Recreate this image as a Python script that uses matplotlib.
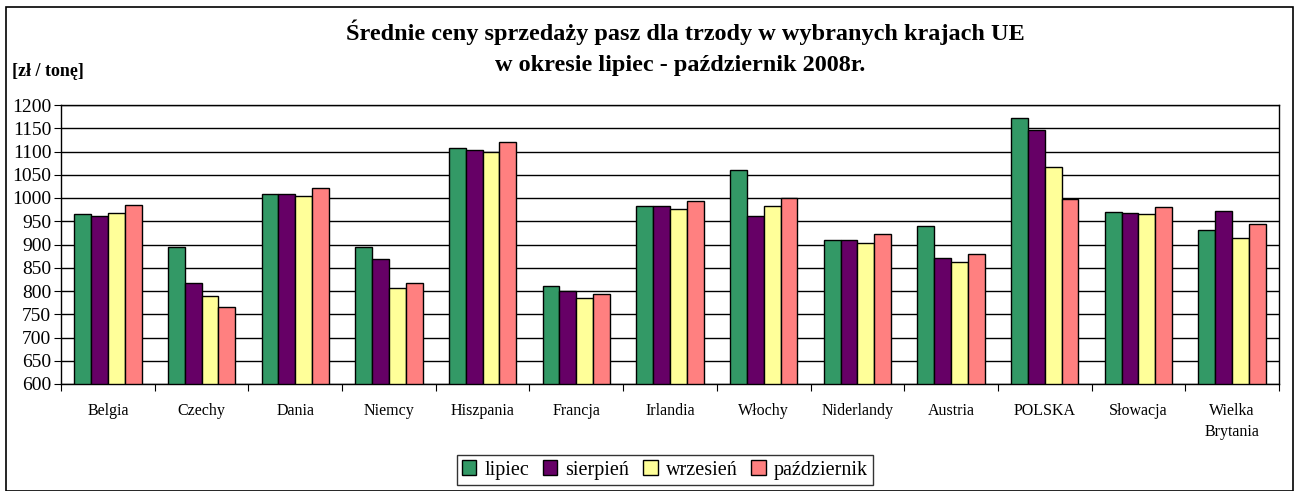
import matplotlib
matplotlib.use("Agg")
import matplotlib.pyplot as plt
import numpy as np
from matplotlib.patches import Rectangle

#------
# data
countries = ["Belgia", "Czechy", "Dania", "Niemcy", "Hiszpania", "Francja", "Irlandia",
             "Włochy", "Niderlandy", "Austria", "POLSKA", "Słowacja", "Wielka\nBrytania"]
months = ["lipiec", "sierpień", "wrzesień", "październik"]

lipiec = [965, 894, 1009, 894, 1107, 810, 982, 1060, 909, 940, 1171, 970, 932]
sierpien = [962, 817, 1009, 868, 1104, 801, 982, 962, 909, 870, 1146, 968, 973]
wrzesien = [967, 790, 1004, 806, 1099, 786, 977, 982, 904, 863, 1066, 965, 914]
pazdziernik = [985, 765, 1021, 817, 1120, 793, 994, 1000, 922, 879, 998, 980, 944]

series = [lipiec, sierpien, wrzesien, pazdziernik]
colors = ["#339966", "#660066", "#FFFF99", "#FF8080"]

serif = ["Liberation Serif", "DejaVu Serif"]
plt.rcParams['font.family'] = serif

#------
# figure
fig = plt.figure(figsize=(12.95, 4.91), dpi=100)
W, H = 1295, 491
ax = fig.add_axes([61/W, 1-384/H, (1279-61)/W, (384-105)/H])

x = np.arange(len(countries))
bw = 0.18
for i in range(4):
    ax.bar(x + (i-1.5)*bw, np.array(series[i]) - 600, bw, bottom=600,
           color=colors[i], edgecolor="black", linewidth=1, label=months[i], zorder=3)

ax.set_ylim(600, 1200)
ax.set_xlim(-0.5, len(countries)-0.5)
ax.set_yticks(np.arange(600, 1201, 50))
ax.yaxis.grid(True, color="black", linewidth=1, zorder=0)
ax.tick_params(axis='y', labelsize=14, direction='out', length=5, pad=2)

ax.set_xticks(np.arange(len(countries)+1) - 0.5, minor=False)
ax.set_xticklabels([])
ax.set_xticks(x, minor=True)
ax.set_xticklabels(countries, minor=True, fontsize=11.5, linespacing=1.35)
ax.tick_params(axis='x', which='minor', length=0, pad=14)
ax.tick_params(axis='x', which='major', direction='out', length=5)
for s in ax.spines.values():
    s.set_linewidth(1)

# title and unit
fig.text(685/W, 1-32/H, "Średnie ceny sprzedaży pasz dla trzody w wybranych krajach UE",
         ha="center", va="center", fontsize=17.5, fontweight="bold")
fig.text(680/W, 1-65/H, "w okresie lipiec - październik 2008r.",
         ha="center", va="center", fontsize=17.5, fontweight="bold")
fig.text(12/W, 1-72/H, "[zł / tonę]", ha="left", va="center", fontsize=13,
         fontweight="bold")

# legend
leg = fig.legend(loc="center", bbox_to_anchor=(665/W, 1-470/H), ncol=4, frameon=True,
                 fancybox=False, edgecolor="black", handlelength=0.7,
                 handleheight=0.7, handletextpad=0.4, columnspacing=0.7,
                 borderpad=0.25, prop={"family": "Liberation Serif", "size": 14.5})
leg.get_frame().set_linewidth(1)

# outer frame
fig.patches.append(Rectangle((6/W, 0), (1293-6)/W, 1-7/H, transform=fig.transFigure,
                             fill=False, edgecolor="black", linewidth=1.2))

fig.savefig("out.png", dpi=100)
